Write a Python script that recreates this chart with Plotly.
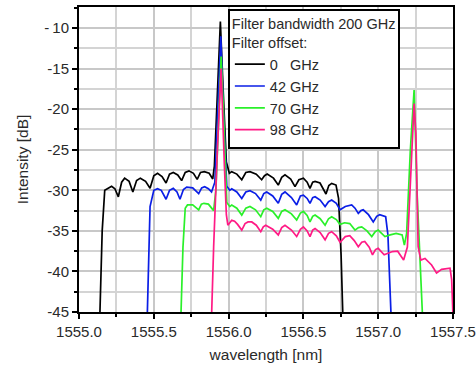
import plotly.graph_objects as go

# ---- data ----
bk_x = [1555.140, 1555.155, 1555.172, 1555.195, 1555.218, 1555.240, 1555.263, 1555.285, 1555.305, 1555.335,
        1555.360, 1555.385, 1555.410, 1555.445, 1555.475, 1555.500, 1555.525, 1555.555, 1555.582, 1555.605,
        1555.630, 1555.660, 1555.686, 1555.710, 1555.735, 1555.765, 1555.790, 1555.812, 1555.838, 1555.870,
        1555.894, 1555.905, 1555.925, 1555.945, 1555.962, 1555.985, 1556.005, 1556.021, 1556.055, 1556.088,
        1556.115, 1556.143, 1556.185, 1556.221, 1556.240, 1556.258, 1556.300, 1556.332, 1556.355, 1556.377,
        1556.415, 1556.444, 1556.470, 1556.500, 1556.525, 1556.544, 1556.562, 1556.578, 1556.611, 1556.651,
        1556.670, 1556.689, 1556.718, 1556.735, 1556.752, 1556.763]
bk_y = [-45, -35, -30.0, -29.8, -29.5, -29.8, -30.8, -29.0, -28.5, -28.9,
        -30.2, -28.8, -28.5, -28.9, -29.75, -28.2, -27.9, -28.3, -29.1, -28.0,
        -27.8, -28.1, -28.8, -27.8, -27.6, -27.9, -28.65, -27.8, -27.7, -27.9,
        -28.6, -27.0, -17.0, -9.2, -17.0, -26.5, -27.9, -27.7, -28.0, -28.7,
        -27.8, -27.7, -28.0, -28.7, -28.2, -28.0, -28.5, -29.35, -28.4, -28.1,
        -28.6, -29.55, -28.7, -28.5, -29.0, -29.75, -29.0, -28.9, -29.1, -30.45,
        -29.4, -29.15, -29.35, -31.0, -38.0, -45]

bl_x = [1555.457, 1555.475, 1555.500, 1555.525, 1555.550, 1555.582, 1555.605, 1555.630, 1555.655, 1555.675,
        1555.698, 1555.720, 1555.760, 1555.800, 1555.820, 1555.840, 1555.865, 1555.886, 1555.908, 1555.930,
        1555.948, 1555.965, 1555.988, 1556.008, 1556.021, 1556.055, 1556.088, 1556.115, 1556.143, 1556.180,
        1556.215, 1556.235, 1556.255, 1556.295, 1556.332, 1556.355, 1556.377, 1556.420, 1556.455, 1556.480,
        1556.500, 1556.525, 1556.544, 1556.562, 1556.578, 1556.612, 1556.645, 1556.668, 1556.689, 1556.720,
        1556.745, 1556.780, 1556.823, 1556.845, 1556.867, 1556.885, 1556.900, 1556.935, 1556.967, 1556.990,
        1557.010, 1557.050, 1557.065, 1557.085]
bl_y = [-45, -32.0, -30.0, -29.8, -30.0, -31.1, -30.0, -29.76, -30.2, -31.1,
        -29.9, -29.6, -29.7, -30.4, -29.7, -29.55, -29.8, -30.2, -29.0, -20.0,
        -11.0, -20.0, -29.5, -30.0, -29.8, -30.2, -31.0, -30.2, -30.05, -30.4,
        -31.2, -30.4, -30.2, -30.7, -31.6, -30.5, -30.2, -30.9, -31.8, -30.7,
        -30.6, -31.0, -31.6, -30.9, -30.8, -31.2, -32.0, -31.4, -31.2, -31.6,
        -32.4, -32.0, -31.8, -32.2, -32.85, -32.5, -32.4, -33.0, -33.9, -33.2,
        -33.0, -33.25, -35.5, -45]

gr_x = [1555.682, 1555.695, 1555.710, 1555.725, 1555.760, 1555.800, 1555.818, 1555.835, 1555.865, 1555.900,
        1555.915, 1555.935, 1555.950, 1555.965, 1555.988, 1556.008, 1556.021, 1556.055, 1556.088, 1556.115,
        1556.143, 1556.180, 1556.215, 1556.235, 1556.255, 1556.295, 1556.332, 1556.355, 1556.377, 1556.420,
        1556.455, 1556.480, 1556.500, 1556.525, 1556.544, 1556.562, 1556.578, 1556.612, 1556.645, 1556.668,
        1556.689, 1556.720, 1556.745, 1556.775, 1556.810, 1556.845, 1556.868, 1556.890, 1556.925, 1556.957,
        1556.980, 1557.000, 1557.045, 1557.080, 1557.120, 1557.160, 1557.175, 1557.190, 1557.215, 1557.240,
        1557.260, 1557.283, 1557.295]
gr_y = [-45, -37.0, -32.2, -31.8, -31.8, -32.4, -31.7, -31.6, -31.7, -32.5,
        -30.0, -20.0, -13.5, -20.0, -31.5, -32.0, -31.8, -32.2, -33.05, -32.2,
        -32.0, -32.4, -33.25, -32.4, -32.2, -32.6, -33.45, -32.6, -32.4, -32.9,
        -33.66, -32.8, -32.6, -33.1, -33.9, -33.2, -33.05, -33.5, -34.3, -33.5,
        -33.25, -33.6, -34.2, -34.0, -34.1, -34.9, -34.6, -34.5, -35.0, -35.7,
        -35.1, -34.9, -35.7, -35.5, -35.3, -35.5, -36.75, -35.3, -25.0, -17.65,
        -30.4, -40.0, -45]

pk_x = [1555.887, 1555.900, 1555.925, 1555.950, 1555.972, 1555.985, 1555.995, 1556.010, 1556.021, 1556.040,
        1556.060, 1556.088, 1556.110, 1556.130, 1556.155, 1556.185, 1556.215, 1556.232, 1556.248, 1556.295,
        1556.332, 1556.355, 1556.377, 1556.420, 1556.455, 1556.480, 1556.500, 1556.525, 1556.544, 1556.562,
        1556.578, 1556.612, 1556.645, 1556.668, 1556.689, 1556.720, 1556.745, 1556.780, 1556.810, 1556.840,
        1556.867, 1556.890, 1556.910, 1556.940, 1556.962, 1556.982, 1557.000, 1557.040, 1557.095, 1557.130,
        1557.170, 1557.195, 1557.210, 1557.240, 1557.252, 1557.267, 1557.285, 1557.313, 1557.357, 1557.390,
        1557.424, 1557.480, 1557.491, 1557.499]
pk_y = [-45, -37.0, -25.0, -15.0, -27.0, -33.0, -34.3, -33.9, -33.7, -33.8,
        -34.2, -34.9, -34.1, -33.9, -33.9, -34.3, -35.1, -34.5, -34.3, -34.8,
        -35.5, -34.6, -34.3, -34.9, -35.7, -34.8, -34.5, -35.0, -35.7, -34.9,
        -34.7, -35.2, -36.1, -35.3, -35.1, -35.6, -36.4, -35.7, -35.6, -36.2,
        -36.95, -36.4, -36.3, -37.0, -37.95, -37.3, -37.15, -37.95, -37.55, -37.5,
        -38.6, -37.0, -30.4, -19.3, -23.0, -36.95, -38.6, -38.4, -39.2, -40.2,
        -39.75, -39.6, -41.0, -45]

series_names = ["0\u00a0\u00a0\u00a0GHz", "42 GHz", "70 GHz", "98 GHz"]
series_colors = ["#000000", "#0a1ee6", "#2af02a", "#ff1a85"]
legend_title = "Filter bandwidth 200 GHz<br>Filter offset:"

y_tickvals = [-45, -40, -35, -30, -25, -20, -15, -10]
y_ticktext = ["-45", "-40", "-35", "-30", "-25", "-20", "-15", "-\u200910"]
x_tickvals = [1555.0, 1555.5, 1556.0, 1556.5, 1557.0, 1557.5]
x_ticktext = ["1555.0", "1555.5", "1556.0", "1556.5", "1557.0", "1557.5"]

FONT = "Arial, Liberation Sans, sans-serif"
TXT = "#2a2a2a"

fig = go.Figure()
for xs, ys, name, col in zip([bk_x, bl_x, gr_x, pk_x], [bk_y, bl_y, gr_y, pk_y],
                             series_names, series_colors):
    fig.add_trace(go.Scatter(x=xs, y=ys, mode="lines", name=name,
                             line=dict(color=col, width=1.7)))

axis_common = dict(
    showline=True, linewidth=2, linecolor="black", mirror=True,
    ticks="outside", ticklen=5, tickwidth=2, tickcolor="black",
    showgrid=True, gridcolor="#c8c8c8", gridwidth=1.5, zeroline=False,
    tickfont=dict(family=FONT, size=15, color=TXT), automargin=False,
)

fig.update_xaxes(
    **axis_common, range=[1555.0, 1557.5], tickvals=x_tickvals, ticktext=x_ticktext,
    minor=dict(dtick=0.25, tick0=1555.0, showgrid=True, gridcolor="#d4d4d4", gridwidth=1.5,
               ticks="outside", ticklen=3, tickwidth=2, tickcolor="black"),
    title=dict(text="wavelength [nm]", font=dict(family=FONT, size=15.5, color=TXT), standoff=10),
)
fig.update_yaxes(
    **axis_common, range=[-45, -7.4], tickvals=y_tickvals, ticktext=y_ticktext,
    minor=dict(dtick=2.5, tick0=-45, showgrid=True, gridcolor="#d4d4d4", gridwidth=1.5,
               ticks="outside", ticklen=3, tickwidth=2, tickcolor="black"),
    title=dict(text="Intensity [dB]", font=dict(family=FONT, size=15.5, color=TXT), standoff=12),
)

fig.update_layout(
    width=476, height=366,
    margin=dict(l=79, r=23, t=7, b=54),
    plot_bgcolor="white", paper_bgcolor="white",
    font=dict(family=FONT, size=14.5, color=TXT),
    legend=dict(
        title=dict(text=legend_title, font=dict(family=FONT, size=14.5, color=TXT)),
        x=0.398, y=0.995, xanchor="left", yanchor="top",
        bgcolor="white", bordercolor="black", borderwidth=2,
        font=dict(family=FONT, size=14.5, color=TXT),
        tracegroupgap=0, itemwidth=30,
    ),
)

fig.write_html("out.html")
